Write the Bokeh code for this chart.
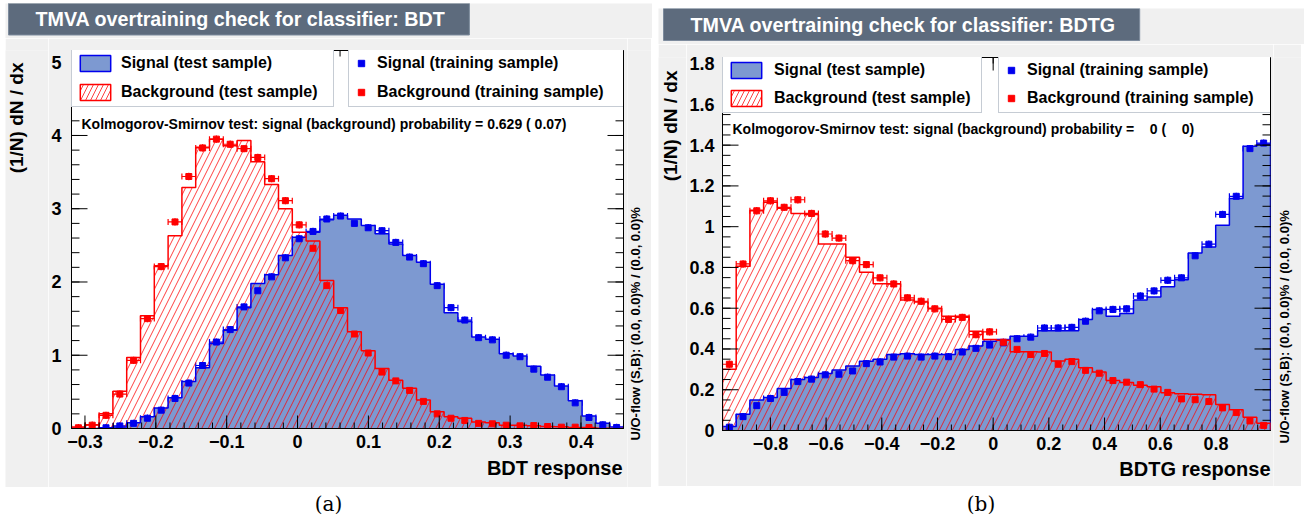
import math
import numpy as np
from bokeh.plotting import figure
from bokeh.models import (Range1d, SingleIntervalTicker, CustomJSTickFormatter, Label, Legend,
                          LegendItem, Whisker, TeeHead, ColumnDataSource, Div, Spacer, Title)
from bokeh.layouts import row, column
from bokeh.embed import file_html
from bokeh.resources import INLINE

FONT = "Liberation Sans"
CANVAS = "#f0f0f0"
SIG_FILL = "#7d99d1"
SIG_LINE = "#0000ee"
BKG_LINE = "#ff0000"
LEG_BORDER = "#8d99a9"
TITLE_FILL = "#5d6b7d"
TITLE_BORDER = "#7d8b9d"

# ---------------- data: BDT (left) ----------------
bdt_title = "TMVA overtraining check for classifier: BDT"
bdt_xlabel = "BDT response"
bdt_ks = "Kolmogorov-Smirnov test: signal (background) probability = 0.629 ( 0.07)"
bdt_range = (-0.319, 0.460)
bdt_ymax = 5.16
bdt_sig_test = [0, 0, 0.01, 0.02, 0.08, 0.16, 0.28, 0.42, 0.64, 0.83, 1.16, 1.34, 1.65, 1.98,
                2.10, 2.36, 2.61, 2.68, 2.85, 2.91, 2.86, 2.77, 2.66, 2.52, 2.36, 2.27, 1.97,
                1.58, 1.46, 1.25, 1.22, 1.02, 0.99, 0.85, 0.73, 0.58, 0.38, 0.17, 0.07, 0.02]
bdt_sig_train = [None, None, 0.01, 0.035, 0.07, 0.14, 0.25, 0.41, 0.62, 0.86, 1.18, 1.35, 1.66,
                 1.88, 2.07, 2.33, 2.59, 2.69, 2.86, 2.90, 2.80, 2.74, 2.70, 2.54, 2.34, 2.25,
                 1.95, 1.65, 1.48, 1.24, 1.21, 1.00, 0.98, 0.81, 0.70, 0.57, 0.35, 0.15, 0.05, 0.014]
bdt_bkg_test = [0.02, 0.05, 0.20, 0.51, 0.97, 1.54, 2.22, 2.63, 3.29, 3.84, 3.95, 3.86, 3.93,
                3.64, 3.33, 3.00, 2.68, 2.56, 2.02, 1.65, 1.32, 1.06, 0.82, 0.66, 0.55, 0.39,
                0.23, 0.16, 0.14, 0.09, 0.08, 0.045, 0.045, 0.036, 0.027, 0.023, 0.014, 0.014,
                0.005, 0]
bdt_bkg_train = [0.01, 0.045, 0.18, 0.47, 0.93, 1.50, 2.21, 2.82, 3.44, 3.83, 3.95, 3.88, 3.82,
                 3.70, 3.41, 3.11, 2.78, 2.46, 1.95, 1.61, 1.29, 1.03, 0.77, 0.65, 0.52, 0.37,
                 0.20, 0.14, 0.11, 0.07, 0.064, 0.045, 0.036, 0.04, 0.027, 0.018, 0.018, 0.014,
                 None, None]

# ---------------- data: BDTG (right) ----------------
bdtg_title = "TMVA overtraining check for classifier: BDTG"
bdtg_xlabel = "BDTG response"
bdtg_ks = "Kolmogorov-Smirnov test: signal (background) probability =\u00a0\u00a0\u00a0\u00a00 (\u00a0\u00a0\u00a0\u00a00)"
bdtg_range = (-0.972, 0.996)
bdtg_ymax = 1.83
bdtg_sig_test = [0.02, 0.08, 0.15, 0.162, 0.206, 0.25, 0.26, 0.28, 0.297, 0.316, 0.34, 0.349,
                 0.373, 0.377, 0.373, 0.373, 0.373, 0.398, 0.414, 0.438, 0.446, 0.463, 0.463,
                 0.49, 0.49, 0.49, 0.545, 0.594, 0.561, 0.574, 0.64, 0.655, 0.705, 0.74, 0.871,
                 0.90, 1.007, 1.138, 1.394, 1.404]
bdtg_sig_train = [0.016, 0.068, 0.122, 0.157, 0.187, 0.24, 0.252, 0.273, 0.276, 0.292, 0.328,
                  0.336, 0.36, 0.365, 0.36, 0.365, 0.362, 0.385, 0.403, 0.419, 0.43, 0.45, 0.458,
                  0.503, 0.503, 0.506, 0.536, 0.587, 0.594, 0.597, 0.66, 0.685, 0.737, 0.749,
                  0.857, 0.914, 1.06, 1.149, 1.383, 1.41]
bdtg_bkg_test = [0.30, 0.806, 1.08, 1.12, 1.09, 1.065, 1.06, 0.915, 0.915, 0.85, 0.776, 0.72,
                 0.72, 0.64, 0.63, 0.60, 0.56, 0.56, 0.487, 0.446, 0.443, 0.386, 0.386, 0.385,
                 0.341, 0.349, 0.308, 0.287, 0.245, 0.235, 0.222, 0.215, 0.185, 0.18, 0.178,
                 0.175, 0.128, 0.102, 0.065, 0.036]
bdtg_bkg_train = [0.325, 0.817, 1.078, 1.127, 1.095, 1.132, 1.065, 0.964, 0.944, 0.833, 0.814,
                  0.749, 0.719, 0.651, 0.634, 0.597, 0.545, 0.555, 0.47, 0.484, 0.433, 0.398,
                  0.373, 0.378, 0.325, 0.338, 0.295, 0.281, 0.245, 0.237, 0.225, 0.203, 0.187,
                  0.155, 0.151, 0.142, 0.111, 0.088, 0.047, 0.025]

legend_labels = ["Signal (test sample)", "Background (test sample)",
                 "Signal (training sample)", "Background (training sample)"]
yaxis_label = "(1/N) dN / dx"
uoflow_text = "U/O-flow (S,B): (0.0, 0.0)% / (0.0, 0.0)%"
captions = ["(a)", "(b)"]

FMT = CustomJSTickFormatter(code="""
const v = Math.round(tick * 100) / 100;
if (Math.abs(v) < 1e-9) return "0";
return (v < 0 ? "\\u2212" : "") + String(Math.abs(v));
""")


def tick_positions(lo, hi, step):
    start = math.ceil(lo / step - 1e-6) * step
    return np.arange(start, hi + 1e-9, step)


def label_axis(ax, ticker, standoff):
    ax.ticker = ticker
    ax.formatter = FMT
    ax.major_tick_in = 0
    ax.major_tick_out = 0
    ax.minor_tick_in = 0
    ax.minor_tick_out = 0
    ax.axis_line_color = "black"
    ax.major_label_standoff = standoff
    ax.major_label_text_font = FONT
    ax.major_label_text_font_style = "bold"
    ax.major_label_text_font_size = "18px"
    ax.major_label_text_color = "black"


def text_fig(w, h, labels):
    """A plain grey strip (no axes) that carries text annotations inside its frame."""
    f = figure(frame_width=w, frame_height=h, min_border=0, x_range=Range1d(0, 1),
               y_range=Range1d(0, 1), x_axis_type=None, y_axis_type=None,
               toolbar_location=None, output_backend="svg", title=None,
               background_fill_color=CANVAS, border_fill_color=CANVAS, outline_line_color=None)
    f.grid.visible = False
    for lab in labels:
        f.add_layout(lab)
    return f


def main_fig(cfg):
    xmin, xmax = cfg["range"]
    ymax = cfg["ymax"]
    fw, fh = cfg["fw"], cfg["fh"]
    p = figure(frame_width=fw, frame_height=fh,
               min_border_left=cfg["bl"], min_border_right=cfg["br"],
               min_border_top=cfg["bt"], min_border_bottom=cfg["bb"],
               x_range=Range1d(xmin, xmax), y_range=Range1d(0, ymax),
               toolbar_location=None, output_backend="svg", title=None,
               background_fill_color="white", border_fill_color=CANVAS,
               outline_line_color="black", outline_line_width=1)
    p.xgrid.visible = False
    p.ygrid.visible = False
    label_axis(p.xaxis[0], SingleIntervalTicker(interval=cfg["xint"]), 6)
    label_axis(p.yaxis[0], SingleIntervalTicker(interval=cfg["yint"]), cfg["ystand"])

    sig_test = np.array(cfg["sig_test"], dtype=float)
    bkg_test = np.array(cfg["bkg_test"], dtype=float)
    sig_train = np.array(cfg["sig_train"], dtype=float)
    bkg_train = np.array(cfg["bkg_train"], dtype=float)
    nb = len(sig_test)
    edges = np.linspace(xmin, xmax, nb + 1)
    centers = 0.5 * (edges[:-1] + edges[1:])
    halfw = 0.5 * (edges[1] - edges[0])
    zeros = np.zeros(nb + 1)

    # filled areas
    p.varea_step(x=edges, y1=zeros, y2=np.append(sig_test, sig_test[-1]), step_mode="after",
                 fill_color=SIG_FILL, fill_alpha=1.0)
    p.varea_step(x=edges, y1=zeros, y2=np.append(bkg_test, bkg_test[-1]), step_mode="after",
                 fill_alpha=0.0, hatch_pattern="/", hatch_color=BKG_LINE, hatch_alpha=0.75,
                 hatch_scale=13, hatch_weight=1)
    # outlines
    xs = np.concatenate([[edges[0]], edges])
    p.step(x=xs, y=np.concatenate([[0.0], sig_test, [0.0]]), mode="after",
           line_color=SIG_LINE, line_width=1.5)
    p.step(x=xs, y=np.concatenate([[0.0], bkg_test, [0.0]]), mode="after",
           line_color=BKG_LINE, line_width=1.5)

    # training points with error bars
    train_r = []
    for vals, col in ((sig_train, SIG_LINE), (bkg_train, BKG_LINE)):
        src = ColumnDataSource(dict(x=centers, y=vals, xlo=centers - halfw, xhi=centers + halfw,
                                    ylo=vals - cfg["yerr"], yhi=vals + cfg["yerr"]))
        p.add_layout(Whisker(source=src, base="y", lower="xlo", upper="xhi", dimension="width",
                             line_color=col, line_width=1.2,
                             lower_head=TeeHead(size=6, line_color=col, line_width=1.2),
                             upper_head=TeeHead(size=6, line_color=col, line_width=1.2)))
        p.add_layout(Whisker(source=src, base="x", lower="ylo", upper="yhi", dimension="height",
                             line_color=col, line_width=1.2, lower_head=None, upper_head=None))
        r = p.scatter(x="x", y="y", source=src, marker="square", size=6,
                      fill_color=col, line_color=col)
        train_r.append(r)

    # inward tick marks on all four frame sides (ROOT style), drawn above the legends
    xmaj = tick_positions(xmin, xmax, cfg["xint"])
    xmin_t = tick_positions(xmin, xmax, cfg["xint"] / cfg["xminor"])
    ymaj = tick_positions(0, ymax, cfg["yint"])
    ymin_t = tick_positions(0, ymax, cfg["yint"] / cfg["yminor"])
    tk = dict(length_units="screen", line_color="black", line_width=1, level="overlay")
    for arr, L in ((xmaj, 13), (xmin_t, 6)):
        p.ray(x=arr, y=0, length=L, angle=math.pi / 2, **tk)
        p.ray(x=arr, y=ymax, length=L, angle=-math.pi / 2, **tk)
    for arr, L in ((ymaj, 16), (ymin_t, 8)):
        p.ray(x=xmin, y=arr, length=L, angle=0, **tk)
        p.ray(x=xmax, y=arr, length=L, angle=math.pi, **tk)

    # legend-only glyphs (one NaN row: nothing drawn in the plot)
    nan = [float("nan")]
    dsig = p.quad(left=nan, right=nan, bottom=nan, top=nan, fill_color=SIG_FILL,
                  line_color=SIG_LINE, line_width=1.5)
    dbkg = p.quad(left=nan, right=nan, bottom=nan, top=nan, fill_color="white",
                  line_color=BKG_LINE, line_width=1.5, hatch_pattern="/", hatch_color=BKG_LINE,
                  hatch_alpha=0.75, hatch_scale=10, hatch_weight=1)

    lw1, lw2, lh = cfg["lw1"], cfg["lw2"], cfg["lh"]
    common = dict(orientation="vertical", margin=0, padding=4, spacing=cfg["lsp"],
                  glyph_height=20, label_height=20,
                  label_text_font=FONT, label_text_font_style="bold",
                  label_text_font_size="16px", label_text_color="black",
                  border_line_color=LEG_BORDER, border_line_width=1,
                  background_fill_color="white", background_fill_alpha=1.0)
    leg1 = Legend(items=[LegendItem(label=legend_labels[0], renderers=[dsig]),
                         LegendItem(label=legend_labels[1], renderers=[dbkg])],
                  location=(0, fh - lh), glyph_width=38, label_standoff=cfg["ls1"],
                  label_width=lw1 - 8 - 38 - cfg["ls1"], **common)
    leg2 = Legend(items=[LegendItem(label=legend_labels[2], renderers=[train_r[0]]),
                         LegendItem(label=legend_labels[3], renderers=[train_r[1]])],
                  location=(cfg["l2x"], fh - lh), glyph_width=16, label_standoff=8,
                  label_width=lw2 - 8 - 16 - 8, **common)
    p.add_layout(leg1)
    p.add_layout(leg2)

    # KS text inside the frame
    p.add_layout(Label(x=10, y=cfg["ksy"], x_units="screen", y_units="screen",
                       text=cfg["ks"], text_font=FONT, text_font_style="bold",
                       text_font_size="14px", text_color="black", text_baseline="middle"))
    # x-axis title, right aligned
    p.add_layout(Title(text=cfg["xlabel"], align="right", offset=cfg["xloff"],
                       standoff=cfg["xlstand"], text_font=FONT, text_font_style="bold",
                       text_font_size="20px", text_color="black"), "below")
    return p


def panel(cfg):
    p = main_fig(cfg)
    main_h = cfg["bt"] + cfg["fh"] + cfg["bb"]
    title = Label(x=cfg["tx"], y=cfg["ty"], x_units="screen", y_units="screen",
                  text=cfg["title"], text_font=FONT, text_font_style="bold",
                  text_font_size="19.7px", text_color="white", text_baseline="middle",
                  text_align="left", background_fill_color=TITLE_FILL,
                  background_fill_alpha=1.0, border_line_color=TITLE_BORDER,
                  border_line_width=1, padding=(27, 24, 5, 5))
    tfig = text_fig(cfg["total_w"], cfg["title_h"], [title])
    ylab = Label(x=cfg["ylx"], y=main_h - cfg["bt"], x_units="screen", y_units="screen",
                 text=yaxis_label, angle=math.pi / 2, text_font=FONT, text_font_style="bold",
                 text_font_size="19px", text_color="black", text_baseline="middle",
                 text_align="right")
    yfig = text_fig(cfg["ylw"], main_h, [ylab])
    uo = Label(x=cfg["uox"], y=cfg["bb"], x_units="screen", y_units="screen",
               text=uoflow_text, angle=math.pi / 2, text_font=FONT, text_font_style="bold",
               text_font_size="13px", text_color="black", text_baseline="middle",
               text_align="left")
    ufig = text_fig(cfg["uow"], main_h, [uo])
    return column(tfig, row(yfig, p, ufig))


left_cfg = dict(range=bdt_range, ymax=bdt_ymax, fw=552, fh=378, bl=20, br=4, bt=12, bb=59,
                xint=0.1, xminor=5, yint=1, yminor=5, yerr=0.05, ystand=10,
                sig_test=bdt_sig_test, sig_train=bdt_sig_train,
                bkg_test=bdt_bkg_test, bkg_train=bdt_bkg_train,
                lw1=261, lw2=275, lh=57, lsp=9, ls1=7, l2x=277,
                ks=bdt_ks, ksy=305, xloff=1, xlstand=9, xlabel=bdt_xlabel,
                title=bdt_title, total_w=647, title_h=35, tx=3, ty=19.5,
                ylw=43, ylx=11, uow=24, uox=8)
right_cfg = dict(range=bdtg_range, ymax=bdtg_ymax, fw=548, fh=373, bl=35, br=3, bt=13, bb=56,
                 xint=0.2, xminor=4, yint=0.2, yminor=4, yerr=0.018, ystand=8,
                 sig_test=bdtg_sig_test, sig_train=bdtg_sig_train,
                 bkg_test=bdtg_bkg_test, bkg_train=bdtg_bkg_train,
                 lw1=258, lw2=272, lh=56, lsp=8, ls1=9, l2x=276,
                 ks=bdtg_ks, ksy=302, xloff=0, xlstand=7, xlabel=bdtg_xlabel,
                 title=bdtg_title, total_w=646, title_h=36, tx=5, ty=20,
                 ylw=28, ylx=12, uow=28, uox=11)

left_panel = panel(left_cfg)
right_panel = panel(right_cfg)

cap_style = {"text-align": "center", "font-family": "DejaVu Serif", "font-size": "20px",
             "line-height": "34px", "color": "black"}
cap_a = Div(text=captions[0], width=647, height=34, margin=0,
            styles=dict(cap_style, width="647px"))
cap_b = Div(text=captions[1], width=646, height=34, margin=0,
            styles=dict(cap_style, width="646px"))

layout = column(
    row(Spacer(width=5, height=10),
        column(Spacer(width=10, height=3), left_panel),
        Spacer(width=6, height=10),
        column(Spacer(width=10, height=8), right_panel)),
    row(Spacer(width=5, height=10), cap_a, Spacer(width=6, height=10), cap_b),
)

with open("out.html", "w") as f:
    f.write(file_html(layout, INLINE))
